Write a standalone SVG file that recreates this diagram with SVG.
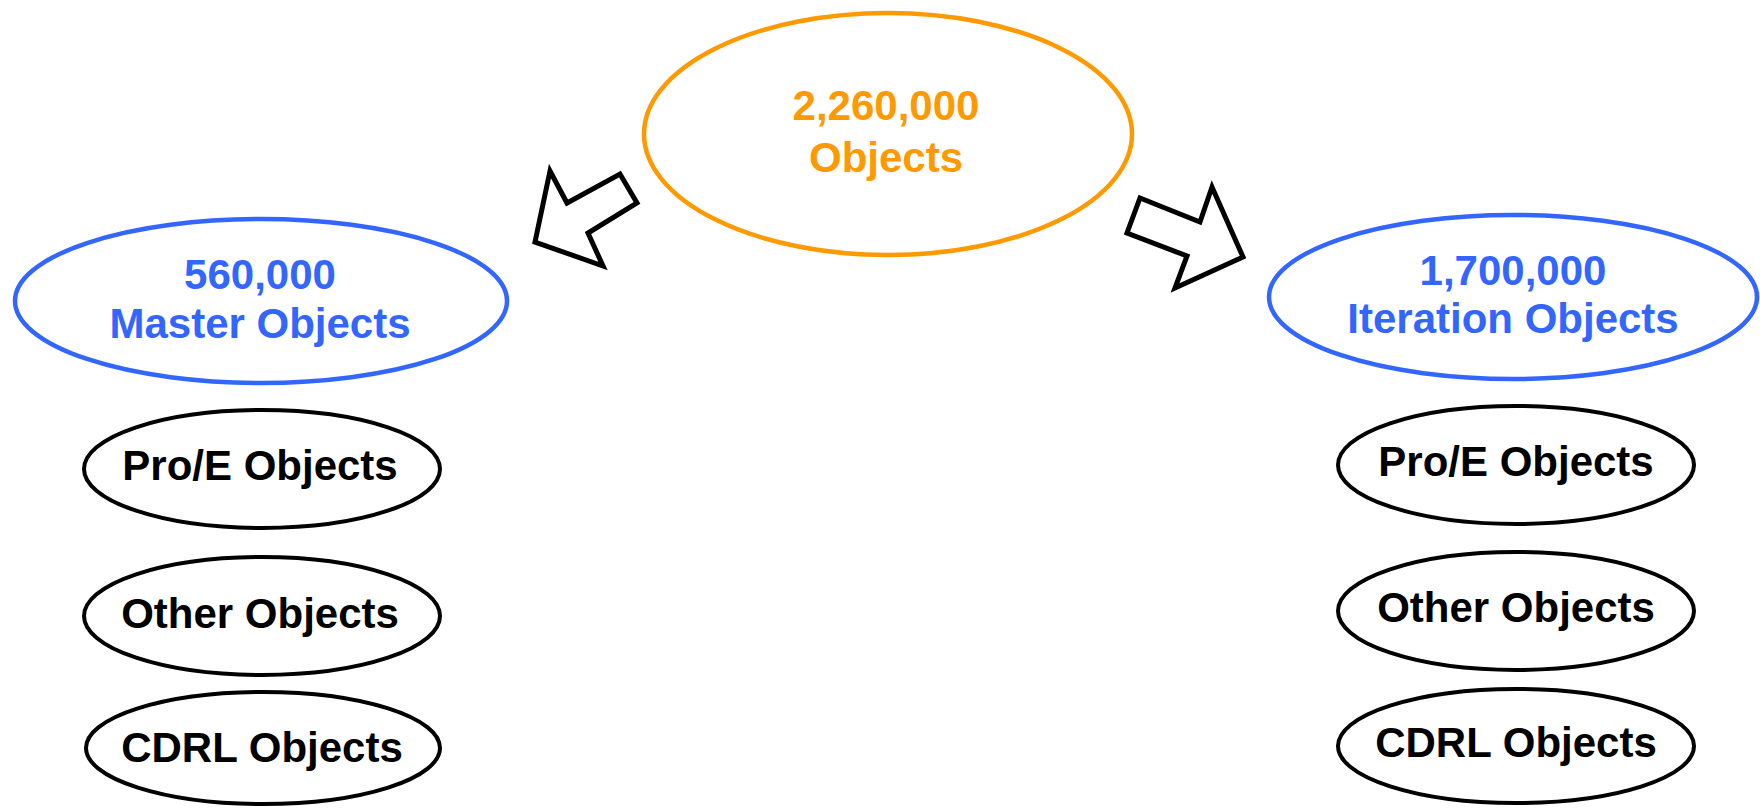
<svg xmlns="http://www.w3.org/2000/svg" width="1760" height="811" viewBox="0 0 1760 811">
  <style>
    .lbl { font-family: "Liberation Sans", Arial, sans-serif; font-weight: bold; font-size: 42px; text-anchor: middle; }
    .orange { fill: none; stroke: #FF9900; stroke-width: 4.5; }
    .blue { fill: none; stroke: #3366FF; stroke-width: 4.5; }
    .plain { fill: none; stroke: #000000; stroke-width: 4; }
    .arrow { fill: #FFFFFF; stroke: #000000; stroke-width: 5; stroke-linejoin: miter; }
    .t-orange { fill: #FF9900; }
    .t-blue { fill: #3366FF; }
    .t-black { fill: #000000; }
  </style>
  <rect width="1760" height="811" fill="#FFFFFF"/>

  <!-- Block arrows splitting the total -->
  <g id="connectors">
    <polygon class="arrow" points="550,171 567,203 620,174 637,203 588,233 603,266 535,242"/>
    <polygon class="arrow" points="1140,198 1200,222 1212,187 1243,257 1175,288 1187,256 1127,233"/>
  </g>

  <g id="total">
    <ellipse class="orange" cx="888" cy="134" rx="244" ry="121"/>
    <text class="lbl t-orange" x="886" y="120">2,260,000</text>
    <text class="lbl t-orange" x="886" y="172">Objects</text>
  </g>

  <g id="master">
    <ellipse class="blue" cx="261" cy="301" rx="246" ry="82"/>
    <text class="lbl t-blue" x="260" y="289">560,000</text>
    <text class="lbl t-blue" x="260" y="338">Master Objects</text>
  </g>

  <g id="iteration">
    <ellipse class="blue" cx="1513" cy="297" rx="244" ry="82"/>
    <text class="lbl t-blue" x="1513" y="285">1,700,000</text>
    <text class="lbl t-blue" x="1513" y="333">Iteration Objects</text>
  </g>

  <g id="master-proe">
    <ellipse class="plain" cx="262" cy="469" rx="178" ry="59"/>
    <text class="lbl t-black" x="260" y="480">Pro/E Objects</text>
  </g>
  <g id="master-other">
    <ellipse class="plain" cx="262" cy="616" rx="178" ry="59"/>
    <text class="lbl t-black" x="260" y="628">Other Objects</text>
  </g>
  <g id="master-cdrl">
    <ellipse class="plain" cx="263" cy="748" rx="177" ry="56"/>
    <text class="lbl t-black" x="262" y="762">CDRL Objects</text>
  </g>

  <g id="iteration-proe">
    <ellipse class="plain" cx="1516" cy="465" rx="178" ry="59"/>
    <text class="lbl t-black" x="1516" y="476">Pro/E Objects</text>
  </g>
  <g id="iteration-other">
    <ellipse class="plain" cx="1516" cy="611" rx="178" ry="59"/>
    <text class="lbl t-black" x="1516" y="622">Other Objects</text>
  </g>
  <g id="iteration-cdrl">
    <ellipse class="plain" cx="1516" cy="746" rx="178" ry="57"/>
    <text class="lbl t-black" x="1516" y="757">CDRL Objects</text>
  </g>
</svg>
